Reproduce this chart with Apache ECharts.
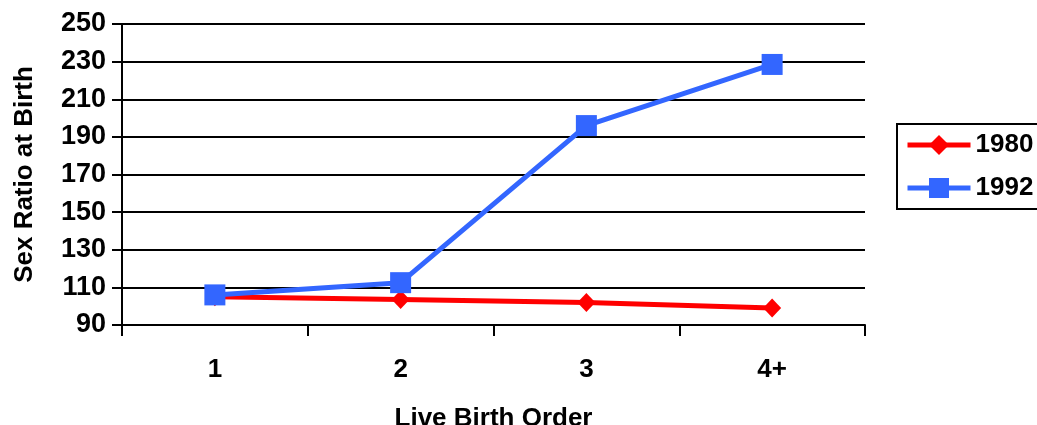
<!DOCTYPE html>
<html>
<head>
<meta charset="utf-8">
<script src="https://cdn.jsdelivr.net/npm/echarts@6/dist/echarts.min.js"></script>
<style>
html,body{margin:0;padding:0;background:#fff;}
#c{width:1037px;height:425px;}
</style>
</head>
<body>
<div id="c"></div>
<script>
const categories = ['1', '2', '3', '4+'];
const series1980 = [105, 103.5, 102, 99];
const series1992 = [106, 112.5, 196, 228.5];
const yMin = 90, yMax = 250, yStep = 20;

const FONT = '"Liberation Sans", Arial, sans-serif';
const chart = echarts.init(document.getElementById('c'), null, {renderer: 'canvas'});
chart.setOption({
  animation: false,
  backgroundColor: '#fff',
  grid: {left: 122, right: 172, top: 24, bottom: 100, containLabel: false, outerBoundsMode: 'none'},
  legend: {
    orient: 'vertical',
    left: 897, top: 124,
    padding: [8, 12, 8, 8],
    itemGap: 17,
    itemWidth: 63, itemHeight: 25,
    borderColor: '#000', borderWidth: 2,
    lineStyle: {width: 5},
    textStyle: {fontFamily: FONT, fontWeight: 'bold', fontSize: 26, color: '#000'},
    data: ['1980', '1992']
  },
  xAxis: {
    type: 'category',
    data: categories,
    boundaryGap: true,
    name: 'Live Birth Order',
    nameLocation: 'middle',
    nameGap: 81,
    nameTextStyle: {fontFamily: FONT, fontWeight: 'bold', fontSize: 26, color: '#000'},
    axisLine: {lineStyle: {color: '#000', width: 2}},
    axisTick: {show: true, length: 11, lineStyle: {color: '#000', width: 2}},
    axisLabel: {fontFamily: FONT, fontWeight: 'bold', fontSize: 26, color: '#000', margin: 32},
    splitLine: {show: false}
  },
  yAxis: {
    type: 'value',
    min: yMin, max: yMax, interval: yStep,
    name: 'Sex Ratio at Birth',
    nameLocation: 'middle',
    nameGap: 84,
    nameTextStyle: {fontFamily: FONT, fontWeight: 'bold', fontSize: 26, color: '#000'},
    axisLine: {show: true, lineStyle: {color: '#000', width: 2}},
    axisTick: {show: true, length: 10, lineStyle: {color: '#000', width: 2}},
    axisLabel: {fontFamily: FONT, fontWeight: 'bold', fontSize: 27, color: '#000', margin: 16},
    splitLine: {show: true, lineStyle: {color: '#000', width: 2}}
  },
  series: [
    {
      name: '1980', type: 'line', data: series1980,
      symbol: 'diamond', symbolSize: [18, 19],
      lineStyle: {color: '#FF0000', width: 5},
      itemStyle: {color: '#FF0000'},
      z: 2
    },
    {
      name: '1992', type: 'line', data: series1992,
      symbol: 'rect', symbolSize: 21,
      lineStyle: {color: '#3366FF', width: 5},
      itemStyle: {color: '#3366FF'},
      z: 3
    }
  ]
});
</script>
</body>
</html>
